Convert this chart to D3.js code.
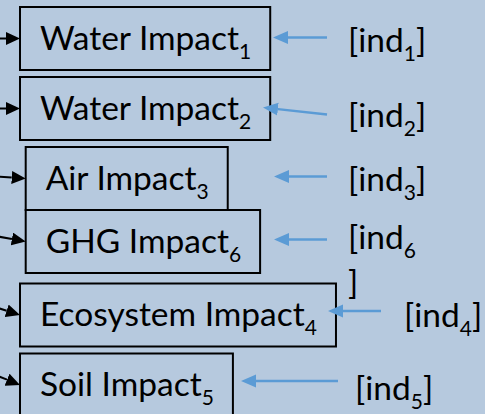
<!DOCTYPE html>
<html>
<head>
<meta charset="utf-8">
<script src="https://cdn.jsdelivr.net/npm/d3@7"></script>
<style>
  body { margin: 0; background: #b6c9de; }
  svg { display: block; }
  text { font-family: Lato, "Open Sans", sans-serif; fill: #000; }
</style>
</head>
<body>
<svg width="485" height="414"></svg>
<script>
// impact boxes, top to bottom
const boxLabels = ['Water Impact', 'Water Impact', 'Air Impact', 'GHG Impact', 'Ecosystem Impact', 'Soil Impact'];
const boxSubs = ['1', '2', '3', '6', '4', '5'];

// indicator labels pointing at each box
const indLabels = ['ind', 'ind', 'ind', 'ind', 'ind', 'ind'];
const indSubs = ['1', '2', '3', '6', '4', '5'];
const indWrapped = [false, false, false, true, false, false];

// layout, per row (kept apart from the data above)
const rowSlot = [0, 1, 2, 2.9, 3.95, 4.95];
const boxIndent = [0, 0, 5.7, 5.7, 0, 0];
const inTailDy = [0, 0, -2, -5, -7, -9];
const blueTailX = [327, 327, 327, 327, 381, 338];
const blueTipX = [273, 263, 274, 274, 328, 241];
const blueTailDy = [-1, 6, -2, -2, -4, -4];
const blueTipDy = [-1, -1, -2, -2, -4, -4];
const labelX = [348, 348, 348, 348, 404, 355];
const labelDy = [13, 18, 12, 7, 12, 15];

const fontSize = 33.5;
const subSize = 21;
const subShift = 9;
const boxLeft = 20;
const boxH = 63;
const padL = 20;
const padR = 19;

const svg = d3.select('svg');

const y = d3.scaleLinear()
    .domain([0, 5])
    .range([38.5, 388.5]);

const rows = boxLabels.map((label, i) => ({
    i,
    label,
    sub: boxSubs[i],
    ind: indLabels[i],
    indSub: indSubs[i],
    wrapped: indWrapped[i],
    yc: y(rowSlot[i])
}));

const defs = svg.append('defs');
defs.append('marker')
    .attr('id', 'head-black')
    .attr('viewBox', '0 -6.5 14 13')
    .attr('refX', 0).attr('refY', 0)
    .attr('markerWidth', 14).attr('markerHeight', 13)
    .attr('markerUnits', 'userSpaceOnUse')
    .attr('orient', 'auto')
    .append('path')
    .attr('d', 'M0,-6.5L14,0L0,6.5Z')
    .attr('fill', '#000');

defs.append('marker')
    .attr('id', 'head-blue')
    .attr('viewBox', '0 -7 15 14')
    .attr('refX', 0).attr('refY', 0)
    .attr('markerWidth', 15).attr('markerHeight', 14)
    .attr('markerUnits', 'userSpaceOnUse')
    .attr('orient', 'auto')
    .append('path')
    .attr('d', 'M0,-6.5L15,0L0,6.5Z')
    .attr('fill', '#5b9bd5');

// shorten a segment so the marker head ends exactly at the tip
const shorten = (x1, y1, x2, y2, len) => {
    const dx = x2 - x1, dy = y2 - y1;
    const d = Math.hypot(dx, dy);
    return [x2 - dx / d * len, y2 - dy / d * len];
};

const rowG = svg.selectAll('g.row').data(rows)
    .enter().append('g')
    .attr('class', 'row');

// box text first, so the box can be sized round it
const boxText = rowG.append('text')
    .attr('x', d => boxLeft + boxIndent[d.i] + padL)
    .attr('y', d => d.yc + 11)
    .style('font-size', fontSize + 'px');
boxText.append('tspan').text(d => d.label);
boxText.append('tspan')
    .attr('dy', subShift)
    .style('font-size', subSize + 'px')
    .text(d => d.sub);

boxText.each(function (d) {
    d.textW = this.getComputedTextLength();
});

rowG.insert('rect', 'text')
    .attr('x', d => boxLeft + boxIndent[d.i])
    .attr('y', d => d.yc - boxH / 2)
    .attr('width', d => d.textW + padL + padR)
    .attr('height', boxH)
    .attr('fill', 'none')
    .attr('stroke', '#000')
    .attr('stroke-width', 2);

// incoming black arrows on the left edge
rowG.append('line')
    .each(function (d) {
        const x2 = boxLeft + boxIndent[d.i];
        const y1 = d.yc + inTailDy[d.i];
        const [ex, ey] = shorten(-2, y1, x2, d.yc, 14);
        d3.select(this)
            .attr('x1', -2).attr('y1', y1)
            .attr('x2', ex).attr('y2', ey);
    })
    .attr('stroke', '#000')
    .attr('stroke-width', 2)
    .attr('marker-end', 'url(#head-black)');

// blue arrows from the indicator labels
rowG.append('line')
    .each(function (d) {
        const x1 = blueTailX[d.i], y1 = d.yc + blueTailDy[d.i];
        const x2 = blueTipX[d.i], y2 = d.yc + blueTipDy[d.i];
        const [ex, ey] = shorten(x1, y1, x2, y2, 15);
        d3.select(this)
            .attr('x1', x1).attr('y1', y1)
            .attr('x2', ex).attr('y2', ey);
    })
    .attr('stroke', '#5b9bd5')
    .attr('stroke-width', 2.5)
    .attr('marker-end', 'url(#head-blue)');

// indicator labels
const indText = rowG.append('text')
    .attr('x', d => labelX[d.i])
    .attr('y', d => d.yc + labelDy[d.i])
    .style('font-size', fontSize + 'px');
indText.append('tspan').text(d => '[' + d.ind);
indText.append('tspan')
    .attr('dy', subShift)
    .style('font-size', subSize + 'px')
    .text(d => d.indSub);
indText.append('tspan')
    .attr('dy', d => d.wrapped ? 45 - subShift : -subShift)
    .attr('x', d => d.wrapped ? labelX[d.i] : null)
    .text(']');
</script>
</body>
</html>
